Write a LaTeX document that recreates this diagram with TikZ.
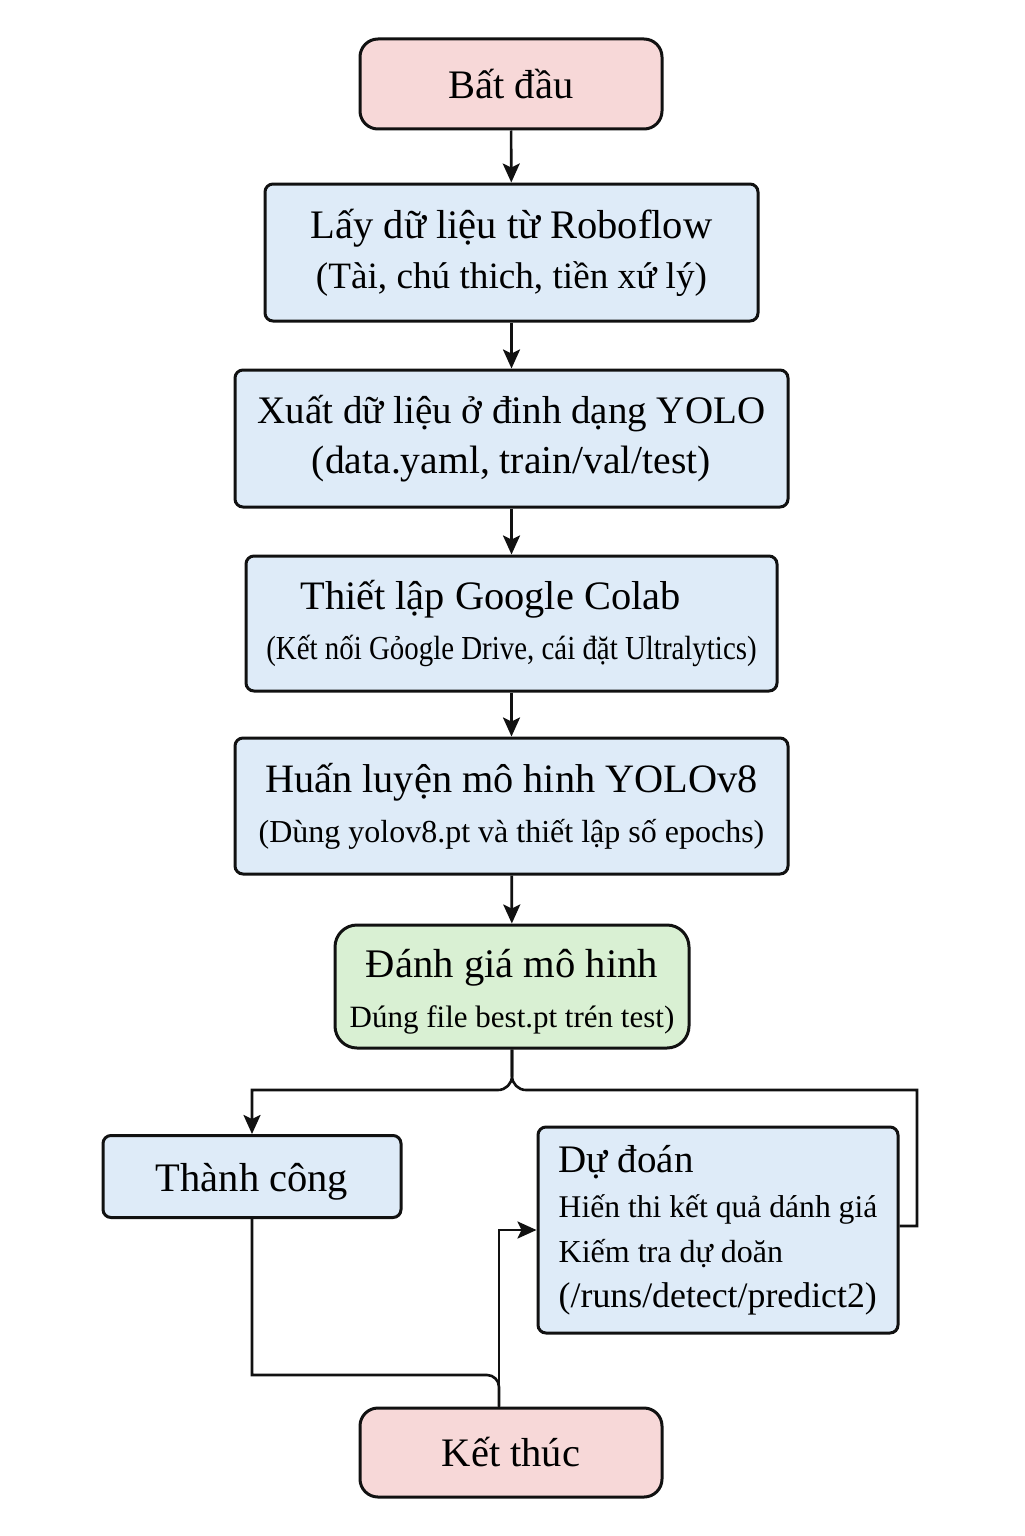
\documentclass[tikz,border=0pt]{standalone}
\usepackage{fontspec}
\setmainfont{Liberation Serif}
\newfontfamily\condfont[FakeStretch=0.86]{Liberation Serif}
\usetikzlibrary{arrows.meta}
\definecolor{pinkfill}{HTML}{F7D8D8}
\definecolor{bluefill}{HTML}{DEEBF8}
\definecolor{greenfill}{HTML}{D9F0D3}
\definecolor{ink}{HTML}{111111}
\newcommand{\fsz}[1]{\fontsize{#1}{25pt}\selectfont}
\newcommand{\fsd}[1]{\fontsize{#1}{22.5pt}\selectfont}
\tikzset{
  boxbase/.style={draw=ink, line width=1.5pt, align=center, inner sep=0pt, text=black, font=\fsz{20.25}},
  bluebox/.style={boxbase, fill=bluefill, rounded corners=4pt},
  endbox/.style={boxbase, fill=pinkfill, rounded corners=9pt, minimum width=151pt, minimum height=45pt},
  greenbox/.style={boxbase, fill=greenfill, rounded corners=11pt},
  conn/.style={draw=ink, line width=1.3pt},
  arr/.style={conn, -{Stealth[length=9.5pt, width=8.5pt, inset=2pt]}}
}
\begin{document}
\begin{tikzpicture}[x=0.5pt, y=-0.5pt]
\useasboundingbox[fill=white] (0,0) rectangle (1024,1536);

\node[endbox] (start) at (511,84) {Bất đầu};
\node[bluebox, minimum width=246.5pt, minimum height=68.5pt] (b2) at (511.5,252.5)
  {{\fsz{20.25}Lấy dữ liệu từ Roboflow}\\{\fsz{18.6}(Tài, chú thich, tiền xứ lý)}};
\node[bluebox, minimum width=276.5pt, minimum height=68.5pt] (b3) at (511.5,438.5)
  {{\fsz{19.5}Xuất dữ liệu ở đinh dạng YOLO}\\{\fsz{19.8}(data.yaml, train/val/test)}};
\node[bluebox, minimum width=265.5pt, minimum height=67.5pt] (b4) at (511.5,623.5)
  {{\fsz{20.2}Thiết lập Google Colab\hspace*{21pt}}\\{\condfont\fsz{16.8}(Kết nối Gỏogle Drive, cái đặt Ultralytics)}};
\node[bluebox, minimum width=276.5pt, minimum height=68pt] (b5) at (511.5,806)
  {{\fsz{20.15}Huấn luyện mô hinh YOLOv8}\\{\fsz{16}(Dùng yolov8.pt và thiết lập số epochs)}};
\node[greenbox, minimum width=177pt, minimum height=61.5pt] (b6) at (512,986.5)
  {{\fsz{20.3}\rule{0pt}{19.5pt}Đánh giá mô hinh}\\{\fsz{15.5}Dúng file best.pt trén test)}};
\node[bluebox, minimum width=149pt, minimum height=41pt] (thanh) at (252,1176.5) {\rule{0pt}{19pt}Thành công};
\node[bluebox, minimum width=180pt, minimum height=103pt, align=left, font=\fsd{16}] (dudoan) at (718,1230)
  {{\fsd{19.5}Dự đoán}\\{\fsd{15.8}Hiến thi kết quả dánh giá}\\{\fsd{16}Kiếm tra dự doăn}\\{\fsd{17.9}(/runs/detect/predict2)}};
\node[endbox, minimum height=44.5pt] (ket) at (511,1452.5) {Kết thúc};

\coordinate (jm) at (512,1090);
\coordinate (jl) at (252,1090);
\coordinate (jr) at (917,1090);
\coordinate (dr) at (917,1226);
\coordinate (cb) at (252,1375);
\path (ket.north) ++(-12,0) coordinate (kin);
\coordinate (kb) at (kin |- cb);

\draw[arr] (start) -- (b2);
\draw[arr] (b2) -- (b3);
\draw[arr] (b3) -- (b4);
\draw[arr] (b4) -- (b5);
\draw[arr] (b5) -- (b6);

\draw[arr] (b6.south) [rounded corners=7pt] -- (jm) [sharp corners] -- (jl) -- (thanh.north);
\draw[conn] (b6.south) [rounded corners=7pt] -- (jm) [sharp corners] -- (jr) -- (dr) -- (dr -| dudoan.east);
\draw[conn] (thanh.south) -- (cb) [rounded corners=6pt] -- (kb) -- (kin);
\draw[arr] (kin) |- (dudoan.west);
\end{tikzpicture}
\end{document}
